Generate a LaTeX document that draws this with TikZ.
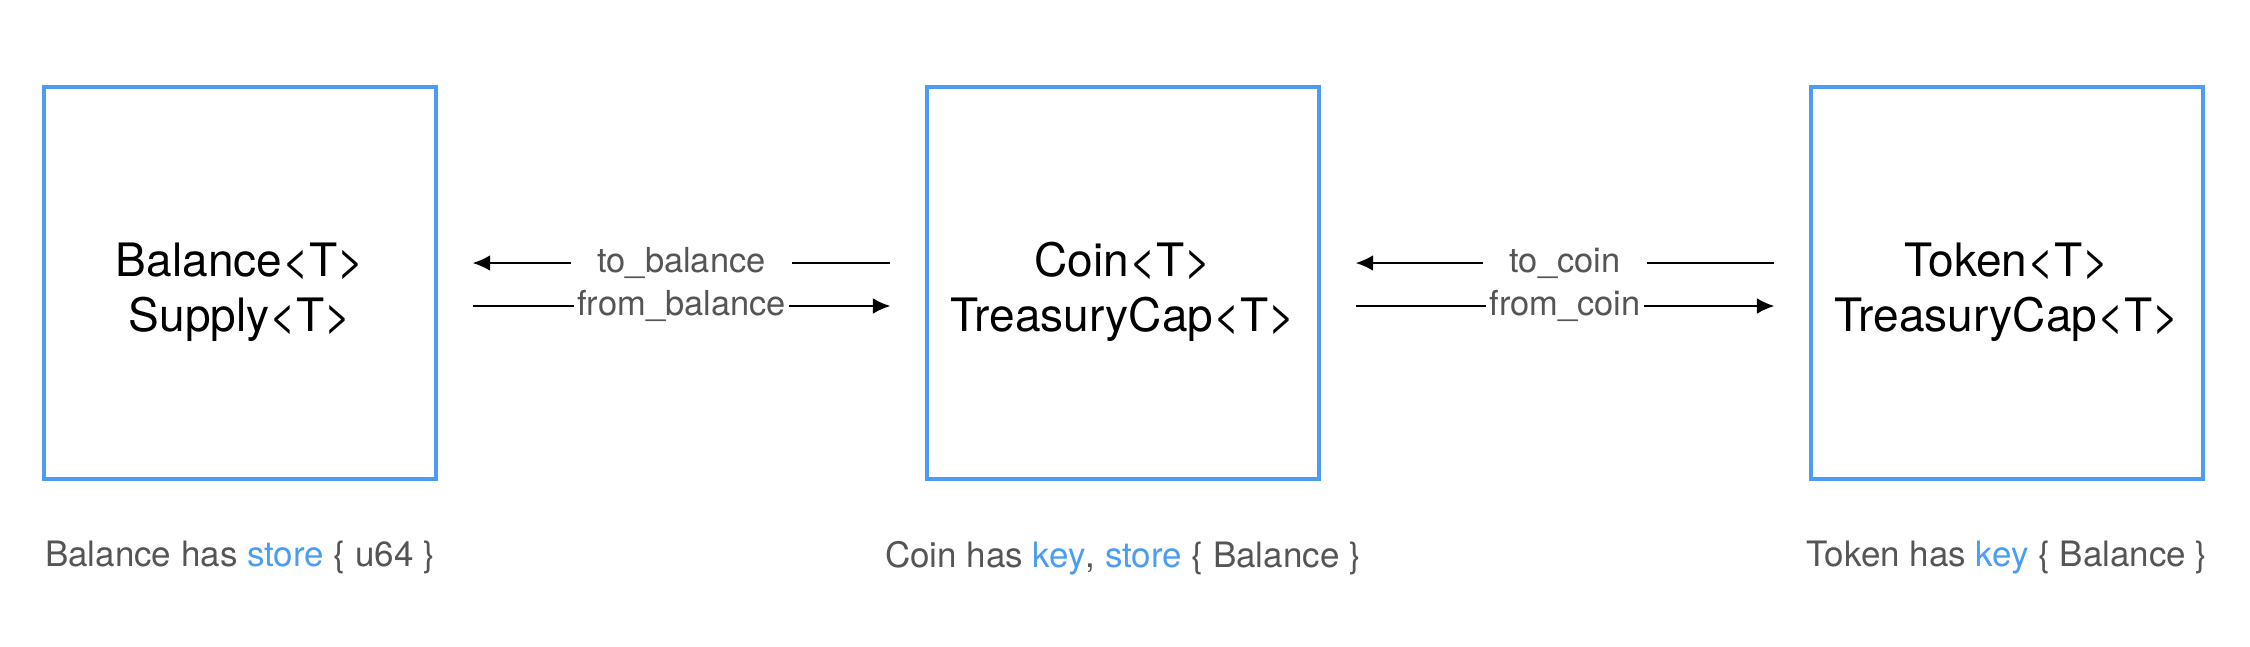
\documentclass[tikz,border=0pt]{standalone}
\usepackage{fontspec}
\setmainfont{TeX Gyre Heros}
\usetikzlibrary{positioning,arrows.meta}

\definecolor{boxblue}{HTML}{4A9DF2}
\definecolor{labelgray}{HTML}{555555}

\begin{document}
\begin{tikzpicture}[
        typebox/.style={draw=boxblue, line width=0.9pt, minimum width=3.92cm, minimum height=3.92cm},
        typename/.style={align=center, font=\fontsize{13.1}{15.6}\selectfont},
        conv/.style={line width=0.6pt, shorten <=0.35cm, shorten >=0.35cm, -{Latex[length=5pt,width=4.5pt]}},
        fnlabel/.style={fill=white, text=labelgray, font=\fontsize{9.8}{11}\selectfont, inner ysep=0.5pt},
        ability/.style={text=labelgray, font=\fontsize{9.95}{12}\selectfont, inner sep=0pt}
    ]
    \useasboundingbox (0,0) rectangle (22.5,-6.46);

    \node[typebox] (balance) at (2.40,-2.83) {};
    \node[typebox] (coin) at (11.23,-2.83) {};
    \node[typebox] (token) at (20.07,-2.83) {};

    \node[typename] (balance-name) at ([yshift=-0.09cm]balance.center) {Balance<T>\\Supply<T>};
    \node[typename] (coin-name) at ([yshift=-0.09cm]coin.center) {Coin<T>\\TreasuryCap<T>};
    \node[typename] (token-name) at ([yshift=-0.09cm]token.center) {Token<T>\\TreasuryCap<T>};

    % conversions between the layers
    \draw[conv] ([yshift=0.2cm]coin.west) -- node[fnlabel, inner xsep=7.5pt] {to\_balance} ([yshift=0.2cm]balance.east);
    \draw[conv] ([yshift=-0.23cm]balance.east) -- node[fnlabel, inner xsep=1pt] {from\_balance} ([yshift=-0.23cm]coin.west);
    \draw[conv] ([yshift=0.2cm]token.west) -- node[fnlabel, inner xsep=7.5pt] {to\_coin} ([yshift=0.2cm]coin.east);
    \draw[conv] ([yshift=-0.23cm]coin.east) -- node[fnlabel, inner xsep=1pt] {from\_coin} ([yshift=-0.23cm]token.west);

    % abilities
    \node[ability, below=0.6cm of balance] (balance-abil) {Balance has \textcolor{boxblue}{store} \{ u64 \}};
    \node[ability, below=0.6cm of coin] (coin-abil) {Coin has \textcolor{boxblue}{key}, \textcolor{boxblue}{store} \{ Balance \}};
    \node[ability, below=0.6cm of token] (token-abil) {Token has \textcolor{boxblue}{key} \{ Balance \}};
\end{tikzpicture}
\end{document}
